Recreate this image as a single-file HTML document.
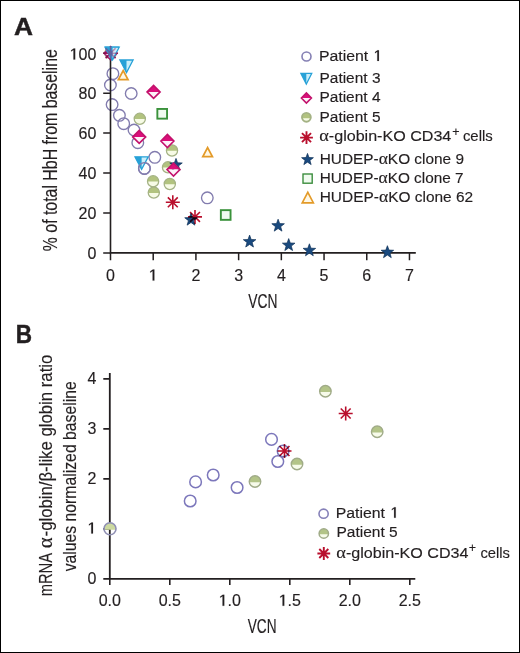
<!DOCTYPE html>
<html><head><meta charset="utf-8"><style>
html,body{margin:0;padding:0;background:#fff;}
svg{display:block;will-change:transform;}
text{font-family:"Liberation Sans",sans-serif;fill:#231f20;stroke:#231f20;stroke-width:0.15px;}
</style></head><body>
<svg width="520" height="653" viewBox="0 0 520 653">
<rect x="0" y="0" width="520" height="653" fill="#fff"/>
<text x="14.0" y="34.8" font-size="24.4" font-weight="bold" style="stroke-width:0.45px" textLength="19.0" lengthAdjust="spacingAndGlyphs">A</text>
<text x="87.40" y="259.20" font-size="16">0</text>
<text x="78.50" y="219.26" font-size="16">20</text>
<text x="78.50" y="179.32" font-size="16">40</text>
<text x="78.50" y="139.38" font-size="16">60</text>
<text x="78.50" y="99.44" font-size="16">80</text>
<path d="M495,0L495,1230L197,1015L197,1185L530,1409L716,1409L716,0Z" transform="translate(69.60,59.50) scale(0.007812,-0.007812)" fill="#231f20" stroke="#231f20" stroke-width="19.2"/><text x="78.50" y="59.50" font-size="16">00</text>
<text x="106.05" y="280.60" font-size="16">0</text>
<path d="M495,0L495,1230L197,1015L197,1185L530,1409L716,1409L716,0Z" transform="translate(148.76,280.60) scale(0.007812,-0.007812)" fill="#231f20" stroke="#231f20" stroke-width="19.2"/>
<text x="191.47" y="280.60" font-size="16">2</text>
<text x="234.18" y="280.60" font-size="16">3</text>
<text x="276.89" y="280.60" font-size="16">4</text>
<text x="319.60" y="280.60" font-size="16">5</text>
<text x="362.31" y="280.60" font-size="16">6</text>
<text x="405.02" y="280.60" font-size="16">7</text>
<text x="262.8" y="308.4" font-size="20" text-anchor="middle" textLength="29.2" lengthAdjust="spacingAndGlyphs">VCN</text>
<text transform="translate(56.8,150.2) rotate(-90)" x="0" y="0" font-size="19.5" text-anchor="middle" textLength="202" lengthAdjust="spacingAndGlyphs">% of total HbH from baseline</text>
<circle cx="112.9" cy="73.7" r="5.8" fill="none" stroke="#827cae" stroke-width="1.35"/>
<circle cx="110.4" cy="85.0" r="5.8" fill="none" stroke="#827cae" stroke-width="1.35"/>
<circle cx="131.2" cy="93.5" r="5.8" fill="none" stroke="#827cae" stroke-width="1.35"/>
<circle cx="112.1" cy="104.6" r="5.8" fill="none" stroke="#827cae" stroke-width="1.35"/>
<circle cx="119.4" cy="115.3" r="5.8" fill="none" stroke="#827cae" stroke-width="1.35"/>
<circle cx="123.7" cy="123.7" r="5.8" fill="none" stroke="#827cae" stroke-width="1.35"/>
<circle cx="134" cy="130" r="5.8" fill="none" stroke="#827cae" stroke-width="1.35"/>
<circle cx="137.8" cy="142.7" r="5.8" fill="none" stroke="#827cae" stroke-width="1.35"/>
<circle cx="154.8" cy="157.3" r="5.8" fill="none" stroke="#827cae" stroke-width="1.35"/>
<circle cx="144.4" cy="168.4" r="5.8" fill="none" stroke="#827cae" stroke-width="1.35"/>
<circle cx="207.3" cy="197.8" r="5.8" fill="none" stroke="#827cae" stroke-width="1.35"/>
<path d="M110.5,46.5V252.9H415.8" fill="none" stroke="#231f20" stroke-width="1.6"/>
<path d="M103.2,252.90H110.5M103.2,212.96H110.5M103.2,173.02H110.5M103.2,133.08H110.5M103.2,93.14H110.5M103.2,53.20H110.5M110.50,252.9V260.3M153.21,252.9V260.3M195.92,252.9V260.3M238.63,252.9V260.3M281.34,252.9V260.3M324.05,252.9V260.3M366.76,252.9V260.3M409.47,252.9V260.3" stroke="#231f20" stroke-width="1.5"/>
<circle cx="110.5" cy="53.2" r="5.6" fill="#f7fbe6"/><path d="M104.91,53.50 A5.6,5.6 0 1 1 116.09,53.50 Z" fill="#b2c37f"/><circle cx="110.5" cy="53.2" r="5.6" fill="none" stroke="#a4b284" stroke-width="1.3"/>
<polygon points="104.10,53.20 110.60,46.70 117.10,53.20" fill="#c8288a"/><polygon points="104.10,53.20 110.60,59.70 117.10,53.20" fill="#fdf2f8"/><polygon points="104.10,53.20 110.60,46.70 117.10,53.20 110.60,59.70" fill="none" stroke="#a8207a" stroke-width="1.6"/>
<path d="M103.60,53.20L117.60,53.20M105.65,48.25L115.55,58.15M110.60,46.20L110.60,60.20M115.55,48.25L105.65,58.15" stroke="#a01860" stroke-width="1.6" fill="none" style="mix-blend-mode:multiply"/>
<polygon points="105.00,47.20 118.20,47.20 111.60,59.80" fill="#c9eefa"/><polygon points="105.00,47.20 111.60,47.20 111.60,59.80" fill="#27a1d7"/><polygon points="105.00,47.20 118.20,47.20 111.60,59.80" fill="none" stroke="#27a1d7" stroke-width="1.3" stroke-linejoin="miter"/>
<polygon points="106.00,47.20 119.20,47.20 112.60,59.80" fill="#c9eefa"/><polygon points="106.00,47.20 112.60,47.20 112.60,59.80" fill="#27a1d7"/><polygon points="106.00,47.20 119.20,47.20 112.60,59.80" fill="none" stroke="#27a1d7" stroke-width="1.3" stroke-linejoin="miter"/>
<g opacity="0.45"><path d="M103.60,53.20L117.60,53.20M105.65,48.25L115.55,58.15M110.60,46.20L110.60,60.20M115.55,48.25L105.65,58.15" stroke="#a01860" stroke-width="1.6" fill="none" style="mix-blend-mode:multiply"/></g>
<circle cx="139.8" cy="118.8" r="5.6" fill="#f7fbe6"/><path d="M134.21,119.10 A5.6,5.6 0 1 1 145.39,119.10 Z" fill="#b2c37f"/><circle cx="139.8" cy="118.8" r="5.6" fill="none" stroke="#a4b284" stroke-width="1.3"/>
<circle cx="172.0" cy="150.5" r="5.6" fill="#f7fbe6"/><path d="M166.41,150.80 A5.6,5.6 0 1 1 177.59,150.80 Z" fill="#b2c37f"/><circle cx="172.0" cy="150.5" r="5.6" fill="none" stroke="#a4b284" stroke-width="1.3"/>
<circle cx="168" cy="167.3" r="5.6" fill="#f7fbe6"/><path d="M162.41,167.60 A5.6,5.6 0 1 1 173.59,167.60 Z" fill="#b2c37f"/><circle cx="168" cy="167.3" r="5.6" fill="none" stroke="#a4b284" stroke-width="1.3"/>
<circle cx="153.1" cy="181.3" r="5.6" fill="#f7fbe6"/><path d="M147.51,181.60 A5.6,5.6 0 1 1 158.69,181.60 Z" fill="#b2c37f"/><circle cx="153.1" cy="181.3" r="5.6" fill="none" stroke="#a4b284" stroke-width="1.3"/>
<circle cx="153.8" cy="192.6" r="5.6" fill="#f7fbe6"/><path d="M148.21,192.90 A5.6,5.6 0 1 1 159.39,192.90 Z" fill="#b2c37f"/><circle cx="153.8" cy="192.6" r="5.6" fill="none" stroke="#a4b284" stroke-width="1.3"/>
<circle cx="169.8" cy="184.0" r="5.6" fill="#f7fbe6"/><path d="M164.21,184.30 A5.6,5.6 0 1 1 175.39,184.30 Z" fill="#b2c37f"/><circle cx="169.8" cy="184.0" r="5.6" fill="none" stroke="#a4b284" stroke-width="1.3"/>
<polygon points="176.00,158.40 177.59,162.81 182.28,162.96 178.57,165.84 179.88,170.34 176.00,167.71 172.12,170.34 173.43,165.84 169.72,162.96 174.41,162.81" fill="#1a4a7f" stroke="#0f3058" stroke-width="0.7" stroke-linejoin="round"/>
<polygon points="191.00,213.20 192.59,217.61 197.28,217.76 193.57,220.64 194.88,225.14 191.00,222.51 187.12,225.14 188.43,220.64 184.72,217.76 189.41,217.61" fill="#1a4a7f" stroke="#0f3058" stroke-width="0.7" stroke-linejoin="round"/>
<polygon points="249.60,235.10 251.19,239.51 255.88,239.66 252.17,242.54 253.48,247.04 249.60,244.41 245.72,247.04 247.03,242.54 243.32,239.66 248.01,239.51" fill="#1a4a7f" stroke="#0f3058" stroke-width="0.7" stroke-linejoin="round"/>
<polygon points="278.10,219.20 279.69,223.61 284.38,223.76 280.67,226.64 281.98,231.14 278.10,228.51 274.22,231.14 275.53,226.64 271.82,223.76 276.51,223.61" fill="#1a4a7f" stroke="#0f3058" stroke-width="0.7" stroke-linejoin="round"/>
<polygon points="288.70,238.60 290.29,243.01 294.98,243.16 291.27,246.04 292.58,250.54 288.70,247.91 284.82,250.54 286.13,246.04 282.42,243.16 287.11,243.01" fill="#1a4a7f" stroke="#0f3058" stroke-width="0.7" stroke-linejoin="round"/>
<polygon points="309.40,243.80 310.99,248.21 315.68,248.36 311.97,251.24 313.28,255.74 309.40,253.11 305.52,255.74 306.83,251.24 303.12,248.36 307.81,248.21" fill="#1a4a7f" stroke="#0f3058" stroke-width="0.7" stroke-linejoin="round"/>
<polygon points="387.40,245.70 388.99,250.11 393.68,250.26 389.97,253.14 391.28,257.64 387.40,255.01 383.52,257.64 384.83,253.14 381.12,250.26 385.81,250.11" fill="#1a4a7f" stroke="#0f3058" stroke-width="0.7" stroke-linejoin="round"/>
<polygon points="147.10,91.90 153.60,85.40 160.10,91.90" fill="#dc0f7b"/><polygon points="147.10,91.90 153.60,98.40 160.10,91.90" fill="#fdf2f8"/><polygon points="147.10,91.90 153.60,85.40 160.10,91.90 153.60,98.40" fill="none" stroke="#c3126c" stroke-width="1.6"/>
<polygon points="132.70,136.90 139.20,130.40 145.70,136.90" fill="#dc0f7b"/><polygon points="132.70,136.90 139.20,143.40 145.70,136.90" fill="#fdf2f8"/><polygon points="132.70,136.90 139.20,130.40 145.70,136.90 139.20,143.40" fill="none" stroke="#c3126c" stroke-width="1.6"/>
<polygon points="160.90,141.00 167.40,134.50 173.90,141.00" fill="#dc0f7b"/><polygon points="160.90,141.00 167.40,147.50 173.90,141.00" fill="#fdf2f8"/><polygon points="160.90,141.00 167.40,134.50 173.90,141.00 167.40,147.50" fill="none" stroke="#c3126c" stroke-width="1.6"/>
<polygon points="167.00,169.60 173.50,163.10 180.00,169.60" fill="#dc0f7b"/><polygon points="167.00,169.60 173.50,176.10 180.00,169.60" fill="#fdf2f8"/><polygon points="167.00,169.60 173.50,163.10 180.00,169.60 173.50,176.10" fill="none" stroke="#c3126c" stroke-width="1.6"/>
<polygon points="119.90,60.00 133.10,60.00 126.50,72.60" fill="#c9eefa"/><polygon points="119.90,60.00 126.50,60.00 126.50,72.60" fill="#27a1d7"/><polygon points="119.90,60.00 133.10,60.00 126.50,72.60" fill="none" stroke="#27a1d7" stroke-width="1.3" stroke-linejoin="miter"/>
<polygon points="135.00,156.80 148.20,156.80 141.60,169.40" fill="#c9eefa"/><polygon points="135.00,156.80 141.60,156.80 141.60,169.40" fill="#27a1d7"/><polygon points="135.00,156.80 148.20,156.80 141.60,169.40" fill="none" stroke="#27a1d7" stroke-width="1.3" stroke-linejoin="miter"/>
<circle cx="144.4" cy="168.4" r="5.8" fill="none" stroke="#827cae" stroke-width="1.35"/>
<rect x="157.35" y="108.95" width="9.70" height="9.70" fill="#f0fbf0" stroke="#3a923b" stroke-width="1.9"/>
<rect x="220.85" y="210.15" width="9.70" height="9.70" fill="#f0fbf0" stroke="#3a923b" stroke-width="1.9"/>
<polygon points="118.40,79.60 128.00,79.60 123.20,70.60" fill="#fff8e6" stroke="#e39a28" stroke-width="1.75"/>
<polygon points="202.80,156.70 212.40,156.70 207.60,147.70" fill="#fff8e6" stroke="#e39a28" stroke-width="1.75"/>
<path d="M165.80,202.30L179.80,202.30M167.85,197.35L177.75,207.25M172.80,195.30L172.80,209.30M177.75,197.35L167.85,207.25" stroke="#b90f2d" stroke-width="1.6" fill="none" style="mix-blend-mode:multiply"/>
<path d="M188.00,216.90L202.00,216.90M190.05,211.95L199.95,221.85M195.00,209.90L195.00,223.90M199.95,211.95L190.05,221.85" stroke="#b90f2d" stroke-width="1.6" fill="none" style="mix-blend-mode:multiply"/>
<circle cx="306.5" cy="56.5" r="4.5" fill="none" stroke="#8580b4" stroke-width="1.6"/>
<text x="318.90" y="60.9" font-size="15.3" textLength="49.32" lengthAdjust="spacingAndGlyphs">Patient</text><path d="M495,0L495,1230L197,1015L197,1185L530,1409L716,1409L716,0Z" transform="translate(373.58,60.9) scale(0.007471,-0.007471)" fill="#231f20" stroke="#231f20" stroke-width="20.1"/>
<polygon points="300.80,73.30 311.80,73.30 306.30,84.10" fill="#c9eefa"/><polygon points="300.80,73.30 306.30,73.30 306.30,84.10" fill="#27a1d7"/><polygon points="300.80,73.30 311.80,73.30 306.30,84.10" fill="none" stroke="#27a1d7" stroke-width="1.2" stroke-linejoin="miter"/>
<text x="319.5" y="82.8" font-size="15.3" text-anchor="start" textLength="61" lengthAdjust="spacingAndGlyphs">Patient 3</text>
<polygon points="301.40,98.00 306.40,93.00 311.40,98.00" fill="#dc0f7b"/><polygon points="301.40,98.00 306.40,103.00 311.40,98.00" fill="#fdf2f8"/><polygon points="301.40,98.00 306.40,93.00 311.40,98.00 306.40,103.00" fill="none" stroke="#c3126c" stroke-width="1.6"/>
<text x="319.5" y="102.3" font-size="15.3" text-anchor="start" textLength="61" lengthAdjust="spacingAndGlyphs">Patient 4</text>
<circle cx="306.4" cy="117.3" r="4.4" fill="#f7fbe6"/><path d="M302.12,118.30 A4.4,4.4 0 1 1 310.68,118.30 Z" fill="#b2c37f"/><circle cx="306.4" cy="117.3" r="4.4" fill="none" stroke="#a4b284" stroke-width="1.9"/>
<text x="319.5" y="121.8" font-size="15.3" text-anchor="start" textLength="61" lengthAdjust="spacingAndGlyphs">Patient 5</text>
<path d="M300.10,137.60L312.90,137.60M301.97,133.07L311.03,142.13M306.50,131.20L306.50,144.00M311.03,133.07L301.97,142.13" stroke="#b90f2d" stroke-width="1.9" fill="none" style="mix-blend-mode:multiply"/>
<text x="319.2" y="141.2" font-size="15.3" textLength="132.1" lengthAdjust="spacingAndGlyphs"><tspan font-family="Liberation Serif" font-size="17.5">α</tspan>-globin-KO CD34</text><text x="455.9" y="136.1" font-size="12.5" text-anchor="middle">+</text><text x="462.9" y="141.2" font-size="15.3" textLength="29.9" lengthAdjust="spacingAndGlyphs">cells</text>
<polygon points="307.50,153.40 308.99,157.54 313.40,157.68 309.92,160.39 311.14,164.62 307.50,162.14 303.86,164.62 305.08,160.39 301.60,157.68 306.01,157.54" fill="#1a4a7f" stroke="#0f3058" stroke-width="0.7" stroke-linejoin="round"/>
<text x="319.7" y="163.5" font-size="15.3" text-anchor="start" textLength="144.3" lengthAdjust="spacingAndGlyphs">HUDEP-<tspan font-family="Liberation Serif" font-size="17.5">α</tspan>KO clone 9</text>
<rect x="303.00" y="174.00" width="9.20" height="9.20" fill="#f0fbf0" stroke="#368a38" stroke-width="1.35"/>
<text x="319.7" y="183.4" font-size="15.3" text-anchor="start" textLength="143.9" lengthAdjust="spacingAndGlyphs">HUDEP-<tspan font-family="Liberation Serif" font-size="17.5">α</tspan>KO clone 7</text>
<polygon points="302.20,202.90 313.40,202.90 307.80,192.30" fill="#fff8e6" stroke="#e39a28" stroke-width="1.6"/>
<text x="319.7" y="202.3" font-size="15.3" text-anchor="start" textLength="153.5" lengthAdjust="spacingAndGlyphs">HUDEP-<tspan font-family="Liberation Serif" font-size="17.5">α</tspan>KO clone 62</text>
<text x="15.8" y="342.6" font-size="25.2" font-weight="bold" style="stroke-width:0.45px" textLength="16.3" lengthAdjust="spacingAndGlyphs">B</text>
<path d="M109.8,372.9V578.9H415.3" fill="none" stroke="#231f20" stroke-width="1.8"/>
<path d="M103.3,578.90H109.8M103.3,528.90H109.8M103.3,478.90H109.8M103.3,428.90H109.8M103.3,378.90H109.8M109.80,578.9V585M169.80,578.9V585M229.80,578.9V585M289.80,578.9V585M349.80,578.9V585M409.80,578.9V585" stroke="#231f20" stroke-width="1.6"/>
<text x="87.40" y="583.50" font-size="16">0</text>
<path d="M495,0L495,1230L197,1015L197,1185L530,1409L716,1409L716,0Z" transform="translate(87.40,533.50) scale(0.007812,-0.007812)" fill="#231f20" stroke="#231f20" stroke-width="19.2"/>
<text x="87.40" y="483.50" font-size="16">2</text>
<text x="87.40" y="433.50" font-size="16">3</text>
<text x="87.40" y="383.50" font-size="16">4</text>
<text x="98.68" y="605.80" font-size="16">0.0</text>
<text x="158.68" y="605.80" font-size="16">0.5</text>
<path d="M495,0L495,1230L197,1015L197,1185L530,1409L716,1409L716,0Z" transform="translate(218.68,605.80) scale(0.007812,-0.007812)" fill="#231f20" stroke="#231f20" stroke-width="19.2"/><text x="227.58" y="605.80" font-size="16">.0</text>
<path d="M495,0L495,1230L197,1015L197,1185L530,1409L716,1409L716,0Z" transform="translate(278.68,605.80) scale(0.007812,-0.007812)" fill="#231f20" stroke="#231f20" stroke-width="19.2"/><text x="287.58" y="605.80" font-size="16">.5</text>
<text x="338.68" y="605.80" font-size="16">2.0</text>
<text x="398.68" y="605.80" font-size="16">2.5</text>
<text x="262.1" y="633.3" font-size="20" text-anchor="middle" textLength="28.8" lengthAdjust="spacingAndGlyphs">VCN</text>
<g transform="translate(52.3,0) rotate(-90)"><text x="-596.3" y="0" font-size="18.6" textLength="43.4" lengthAdjust="spacingAndGlyphs">mRNA</text><text x="-548.3" y="0" font-size="21" font-family="Liberation Serif" style="font-family:'Liberation Serif',serif">α</text><text x="-536.4" y="0" font-size="18.6" textLength="181.7" lengthAdjust="spacingAndGlyphs">-globin/β-like globin ratio</text></g>
<text transform="translate(76.3,476.3) rotate(-90)" x="0" y="0" font-size="18.6" text-anchor="middle" textLength="190" lengthAdjust="spacingAndGlyphs">values normalized baseline</text>
<circle cx="110.0" cy="528.8" r="6.0" fill="none"/><path d="M104.08,529.80 A6.0,6.0 0 1 1 115.92,529.80 Z" fill="#ccd9a0"/><circle cx="110.0" cy="528.8" r="6.0" fill="none" stroke="#8f8fb3" stroke-width="1.6"/>
<circle cx="195.6" cy="481.9" r="5.8" fill="none" stroke="#7c77bb" stroke-width="1.5"/>
<circle cx="213.2" cy="475.0" r="5.8" fill="none" stroke="#7c77bb" stroke-width="1.5"/>
<circle cx="190.2" cy="501.0" r="5.8" fill="none" stroke="#7c77bb" stroke-width="1.5"/>
<circle cx="237.1" cy="487.5" r="5.8" fill="none" stroke="#7c77bb" stroke-width="1.5"/>
<circle cx="271.5" cy="439.4" r="5.8" fill="none" stroke="#7c77bb" stroke-width="1.5"/>
<circle cx="283.1" cy="451.0" r="5.8" fill="none" stroke="#7c77bb" stroke-width="1.5"/>
<circle cx="277.8" cy="461.5" r="5.8" fill="none" stroke="#7c77bb" stroke-width="1.5"/>
<circle cx="325.4" cy="391.2" r="5.75" fill="#f7fbea"/><path d="M319.71,392.00 A5.75,5.75 0 1 1 331.09,392.00 Z" fill="#b3c488"/><circle cx="325.4" cy="391.2" r="5.75" fill="none" stroke="#a0ab88" stroke-width="1.4"/>
<circle cx="297.0" cy="464.0" r="5.75" fill="#f7fbea"/><path d="M291.31,464.80 A5.75,5.75 0 1 1 302.69,464.80 Z" fill="#b3c488"/><circle cx="297.0" cy="464.0" r="5.75" fill="none" stroke="#a0ab88" stroke-width="1.4"/>
<circle cx="255.0" cy="481.5" r="5.75" fill="#f7fbea"/><path d="M249.31,482.30 A5.75,5.75 0 1 1 260.69,482.30 Z" fill="#b3c488"/><circle cx="255.0" cy="481.5" r="5.75" fill="none" stroke="#a0ab88" stroke-width="1.4"/>
<circle cx="377.2" cy="431.8" r="5.75" fill="#f7fbea"/><path d="M371.51,432.60 A5.75,5.75 0 1 1 382.89,432.60 Z" fill="#b3c488"/><circle cx="377.2" cy="431.8" r="5.75" fill="none" stroke="#a0ab88" stroke-width="1.4"/>
<path d="M338.70,413.50L352.70,413.50M340.75,408.55L350.65,418.45M345.70,406.50L345.70,420.50M350.65,408.55L340.75,418.45" stroke="#b90f2d" stroke-width="1.6" fill="none" style="mix-blend-mode:multiply"/>
<path d="M277.50,451.00L291.50,451.00M279.55,446.05L289.45,455.95M284.50,444.00L284.50,458.00M289.45,446.05L279.55,455.95" stroke="#b90f2d" stroke-width="1.6" fill="none" style="mix-blend-mode:multiply"/>
<circle cx="323.6" cy="513.7" r="4.6" fill="none" stroke="#8580b8" stroke-width="1.6"/>
<text x="335.70" y="517.8" font-size="15.3" textLength="49.32" lengthAdjust="spacingAndGlyphs">Patient</text><path d="M495,0L495,1230L197,1015L197,1185L530,1409L716,1409L716,0Z" transform="translate(390.38,517.8) scale(0.007471,-0.007471)" fill="#231f20" stroke="#231f20" stroke-width="20.1"/>
<circle cx="323.8" cy="533.5" r="4.7" fill="#f7fbea"/><path d="M319.17,534.30 A4.7,4.7 0 1 1 328.43,534.30 Z" fill="#b3c488"/><circle cx="323.8" cy="533.5" r="4.7" fill="none" stroke="#a0ab88" stroke-width="1.5"/>
<text x="336.4" y="537.3" font-size="15.3" text-anchor="start" textLength="61.3" lengthAdjust="spacingAndGlyphs">Patient 5</text>
<path d="M317.40,553.50L330.20,553.50M319.27,548.97L328.33,558.03M323.80,547.10L323.80,559.90M328.33,548.97L319.27,558.03" stroke="#b90f2d" stroke-width="1.9" fill="none" style="mix-blend-mode:multiply"/>
<text x="336.3" y="557.5" font-size="15.3" textLength="132.2" lengthAdjust="spacingAndGlyphs"><tspan font-family="Liberation Serif" font-size="17.5">α</tspan>-globin-KO CD34</text><text x="472.3" y="552.4" font-size="12.5" text-anchor="middle">+</text><text x="480.4" y="557.5" font-size="15.3" textLength="29.5" lengthAdjust="spacingAndGlyphs">cells</text>
<rect x="0.5" y="0.5" width="519" height="652" fill="none" stroke="#000" stroke-width="1"/>
</svg>
</body></html>
